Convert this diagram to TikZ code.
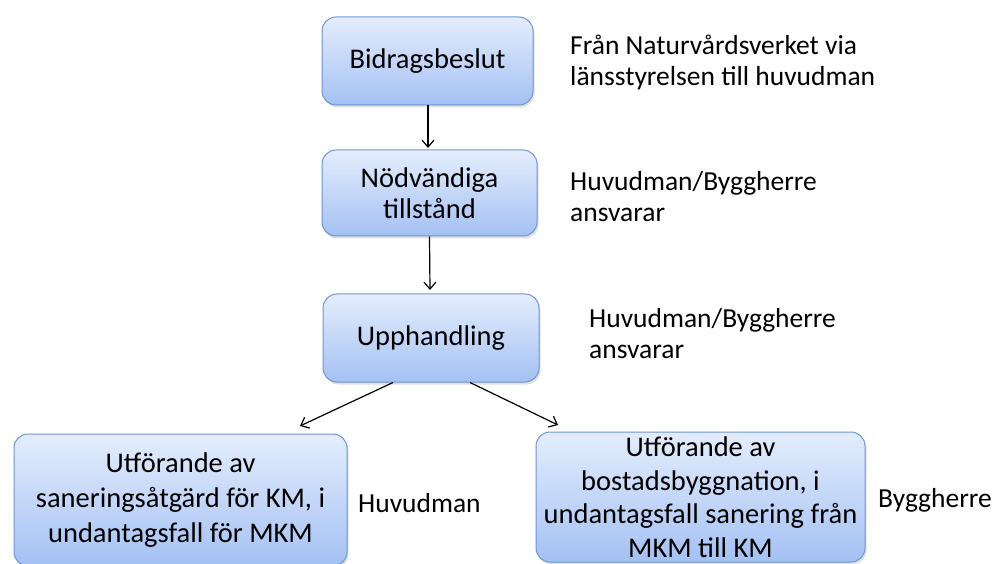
\documentclass[tikz,border=0pt]{standalone}
\usepackage{fontspec}
\setmainfont{Carlito}
\usepackage{tikz}
\usetikzlibrary{positioning, arrows.meta, shadows}
\definecolor{boxtop}{RGB}{228,237,252}
\definecolor{boxbot}{RGB}{164,193,244}
\definecolor{boxline}{RGB}{110,150,210}
\tikzset{
	step box/.style={rounded corners=14pt, draw=boxline, line width=1pt, top color=boxtop, bottom color=boxbot,
		drop shadow={opacity=.25, shadow xshift=1.5pt, shadow yshift=-2.5pt}, align=center, inner sep=0pt,
		font=\fontsize{28.5}{31}\selectfont},
	note/.style={anchor=west, align=left, inner sep=0pt, font=\fontsize{27.5}{31}\selectfont},
	flow/.style={line width=1.2pt, -{Straight Barb[length=7pt, width=12pt, line width=1.2pt]}}
}

\begin{document}
\begin{tikzpicture}[x=1pt, y=-1pt]
\useasboundingbox (0,0) rectangle (997,564);
	\coordinate (c1) at (427.5,61);
	\coordinate (c2) at (429.5,193);
	\coordinate (c3) at (431,338);
\coordinate (c4) at (180.5,500);
\coordinate (c5) at (700.5,497);
\node[step box, minimum width=211pt, minimum height=88pt] (beslut) at (c1) {Bidragsbeslut};
\node[step box, minimum width=215pt, minimum height=86pt] (tillstand) at (c2) {Nödvändiga\\tillstånd};
\node[step box, minimum width=216pt, minimum height=88pt] (upph) at (c3) {Upphandling};
\node[step box, minimum width=333pt, minimum height=132pt, font=\fontsize{28.5}{35}\selectfont] (km) at (c4) {Utförande av\\saneringsåtgärd för KM, i\\undantagsfall för MKM};
\node[step box, minimum width=329pt, minimum height=130pt, font=\fontsize{28.5}{33.5}\selectfont] (bostad) at (c5) {Utförande av\\bostadsbyggnation, i\\undantagsfall sanering från\\MKM till KM};
% ansvar
\node[note] (n1) at (570,62) {Från Naturvårdsverket via\\länsstyrelsen till huvudman};
\node[note] (n2) at (570,197) {Huvudman/Byggherre\\ansvarar};
\node[note] (n3) at (589,334) {Huvudman/Byggherre\\ansvarar};
\node[note] (n4) at (358,503) {Huvudman};
\node[note] (n5) at (878,500) {Byggherre};
% pilar
\coordinate (a1) at (428,148);
\coordinate (a2) at (430,290);
\coordinate (a3) at (300,426);
\coordinate (a4) at (558,425);
\draw[flow] (beslut.south -| a1) -- (a1);
\draw[flow] (tillstand.south) -- (a2);
\draw[flow] ([xshift=-38pt]upph.south) -- (a3);
\draw[flow] ([xshift=39pt]upph.south) -- (a4);
\end{tikzpicture}
\end{document}
